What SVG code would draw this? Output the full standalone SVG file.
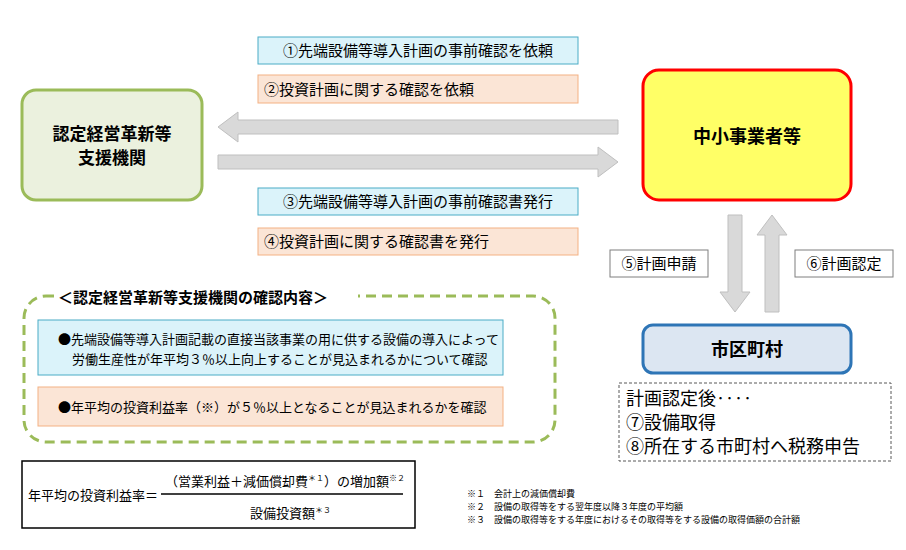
<svg xmlns="http://www.w3.org/2000/svg" width="906" height="550" viewBox="0 0 906 550">
<defs><style>
text{font-family:"Noto Sans CJK JP","Noto Sans",sans-serif;fill:#000}
.c{fill:#dbf3fa;stroke:#4bacc6;stroke-width:1}
.p{fill:#fbe5d6;stroke:#f4b183;stroke-width:1}
.l{font-size:15px}
.ar{fill:#d9d9d9;stroke:#bfbfbf;stroke-width:1}
.b{font-weight:bold}
</style></defs>
<rect width="906" height="550" fill="#fff"/>
<g id="connectors">
<polygon class="ar" points="618,120 238,120 238,112 218,127 238,142 238,134 618,134"/>
<polygon class="ar" points="218,155 598,155 598,147 618,162 598,177 598,169 218,169"/>
<polygon class="ar" points="728,215 742,215 742,292 750,292 735,312 720,292 728,292"/>
<polygon class="ar" points="765,312 779,312 779,235 787,235 772,215 757,235 765,235"/>
</g>
<g id="label1"><rect class="c" x="258" y="37" width="320" height="27"/><text class="l" x="418" y="56" text-anchor="middle">①先端設備等導入計画の事前確認を依頼</text></g>
<g id="label2"><rect class="p" x="258" y="75" width="320" height="28"/><text class="l" x="264" y="95">②投資計画に関する確認を依頼</text></g>
<g id="label3"><rect class="c" x="258" y="188" width="320" height="27"/><text class="l" x="418" y="207" text-anchor="middle">③先端設備等導入計画の事前確認書発行</text></g>
<g id="label4"><rect class="p" x="258" y="228" width="320" height="27"/><text class="l" x="264" y="247">④投資計画に関する確認書を発行</text></g>
<g id="label5"><rect x="610" y="250" width="98" height="27" fill="#fff" stroke="#7f7f7f"/><text class="l" x="659" y="269" text-anchor="middle">⑤計画申請</text></g>
<g id="label6"><rect x="795" y="250" width="98" height="27" fill="#fff" stroke="#7f7f7f"/><text class="l" x="844" y="269" text-anchor="middle">⑥計画認定</text></g>
<g id="shien"><rect x="22" y="90" width="180" height="110" rx="14" fill="#ebf1de" stroke="#9bbb59" stroke-width="3"/><text class="b" x="112" y="140" text-anchor="middle" font-size="17">認定経営革新等</text><text class="b" x="112" y="164" text-anchor="middle" font-size="17">支援機関</text></g>
<g id="chusho"><rect x="643" y="70" width="208" height="130" rx="16" fill="#ffff66" stroke="#ff0000" stroke-width="3"/><text class="b" x="747" y="143" text-anchor="middle" font-size="18">中小事業者等</text></g>
<g id="shiku"><rect x="643" y="325" width="208" height="48" rx="10" fill="#dce6f2" stroke="#2e75b6" stroke-width="3"/><text class="b" x="747" y="356" text-anchor="middle" font-size="18">市区町村</text></g>
<g id="after"><rect x="619" y="383" width="272" height="78" fill="#fff" stroke="#595959" stroke-dasharray="3,2"/>
<text x="626" y="405" font-size="18">計画認定後‥‥</text><text x="626" y="429" font-size="18">⑦設備取得</text><text x="626" y="453" font-size="18">⑧所在する市町村へ税務申告</text></g>
<g id="kakunin"><rect x="24" y="296" width="531" height="146" rx="22" fill="none" stroke="#9bbb59" stroke-width="3" stroke-dasharray="10,6"/>
<rect x="54" y="288" width="304" height="18" fill="#fff"/>
<text class="b" x="58" y="303" font-size="15">＜認定経営革新等支援機関の確認内容＞</text>
<rect class="c" x="38" y="320" width="465" height="55"/>
<text x="58" y="344" font-size="13">●先端設備等導入計画記載の直接当該事業の用に供する設備の導入によって</text>
<text x="72" y="364" font-size="13">労働生産性が年平均３％以上向上することが見込まれるかについて確認</text>
<rect class="p" x="38" y="387" width="465" height="39"/>
<text x="58" y="412" font-size="13">●年平均の投資利益率（※）が５％以上となることが見込まれるかを確認</text></g>
<g id="formula"><rect x="22" y="461" width="393" height="67" fill="#fff" stroke="#000" stroke-width="1.5"/>
<text x="28" y="500" font-size="13">年平均の投資利益率＝</text>
<line x1="161" y1="494" x2="403" y2="494" stroke="#000" stroke-width="1.5"/>
<text x="165" y="486" font-size="13">（営業利益＋減価償却費<tspan font-size="8" dy="-5">＊１</tspan><tspan dy="5">）の増加額</tspan><tspan font-size="8" dy="-5">※２</tspan></text>
<text x="250" y="518" font-size="13">設備投資額<tspan font-size="8" dy="-5">＊３</tspan></text></g>
<g id="notes"><text x="467" y="497" font-size="9">※１　会計上の減価償却費</text><text x="467" y="510" font-size="9">※２　設備の取得等をする翌年度以降３年度の平均額</text><text x="467" y="523" font-size="9">※３　設備の取得等をする年度におけるその取得等をする設備の取得価額の合計額</text></g>
</svg>
